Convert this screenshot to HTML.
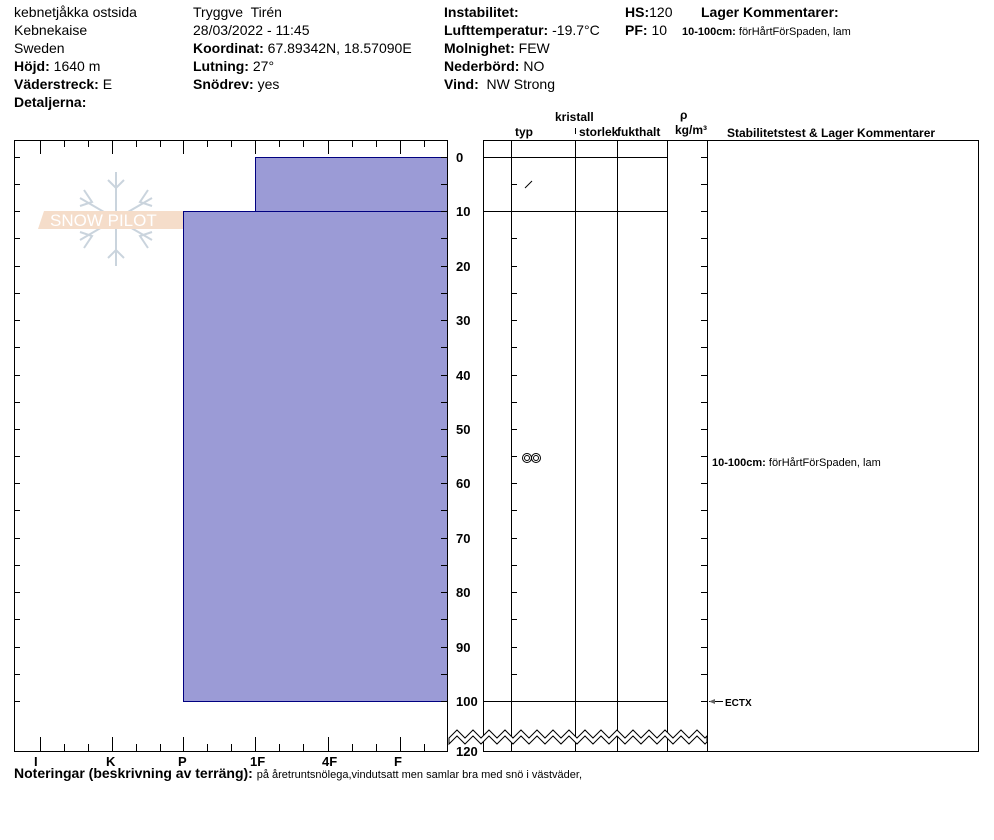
<!DOCTYPE html>
<html><head><meta charset="utf-8"><style>
body{margin:0;background:#fff;}
svg{display:block;font-family:"Liberation Sans",Arial,sans-serif;}
.t{font-size:14px;fill:#000}
.b{font-weight:bold}
.s{font-size:12px;font-weight:bold}
</style></head><body>
<svg width="994" height="840" viewBox="0 0 994 840" xmlns="http://www.w3.org/2000/svg">
<rect width="994" height="840" fill="#fff"/>
<g class="t">
<text x="14" y="17">kebnetjåkka ostsida</text>
<text x="14" y="35">Kebnekaise</text>
<text x="14" y="53">Sweden</text>
<text x="14" y="71"><tspan class="b">Höjd:</tspan> 1640 m</text>
<text x="14" y="89"><tspan class="b">Väderstreck:</tspan> E</text>
<text x="14" y="107" class="b">Detaljerna:</text>
<text x="193" y="17">Tryggve&#160; Tirén</text>
<text x="193" y="35">28/03/2022 - 11:45</text>
<text x="193" y="53"><tspan class="b">Koordinat:</tspan> 67.89342N, 18.57090E</text>
<text x="193" y="71"><tspan class="b">Lutning:</tspan> 27°</text>
<text x="193" y="89"><tspan class="b">Snödrev:</tspan> yes</text>
<text x="444" y="17" class="b">Instabilitet:</text>
<text x="444" y="35"><tspan class="b">Lufttemperatur:</tspan> -19.7°C</text>
<text x="444" y="53"><tspan class="b">Molnighet:</tspan> FEW</text>
<text x="444" y="71"><tspan class="b">Nederbörd:</tspan> NO</text>
<text x="444" y="89"><tspan class="b">Vind:</tspan>&#160; NW Strong</text>
<text x="625" y="17"><tspan class="b">HS:</tspan>120</text>
<text x="625" y="35"><tspan class="b">PF:</tspan> 10</text>
<text x="701" y="17" class="b">Lager Kommentarer:</text>
<text x="682" y="35" style="font-size:11px"><tspan class="b">10-100cm:</tspan> förHårtFörSpaden, lam</text>
</g>
<!-- logo -->
<g opacity="0.7">
<g stroke="#b4c2d0" stroke-width="2" fill="none">
<line x1="116" y1="172" x2="116" y2="266"/><line x1="80" y1="198" x2="152" y2="240"/><line x1="80" y1="240" x2="152" y2="198"/>
<path d="M108,180 L116,188 L124,180 M108,258 L116,250 L124,258 M84,190 L92,202 L80,206 M148,190 L140,202 L152,206 M84,248 L92,236 L80,232 M148,248 L140,236 L152,232"/>
</g>
<polygon points="44,211 190,211 183,229 38,229" fill="#f2cfb4"/>
<text x="50" y="226" style="font-size:17px;fill:#fff">SNOW PILOT</text>
</g>
<!-- bars -->
<rect x="255.5" y="157.5" width="192" height="54" fill="#9b9bd6" stroke="#000080"/>
<rect x="183.5" y="211.5" width="264" height="490" fill="#9b9bd6" stroke="#000080"/>
<rect x="14.5" y="140.5" width="433" height="611" fill="none" stroke="#000"/>
<!-- ticks -->
<path stroke="#000" fill="none" d="
M40.5,140v14M64.5,140v7M88.5,140v7M112.5,140v14M136.5,140v7M160.5,140v7M183.5,140v14M207.5,140v7M231.5,140v7M255.5,140v14M279.5,140v7M303.5,140v7M328.5,140v14M352.5,140v7M376.5,140v7M400.5,140v14M424.5,140v7
M40.5,751v-14M64.5,751v-7M88.5,751v-7M112.5,751v-14M136.5,751v-7M160.5,751v-7M183.5,751v-14M207.5,751v-7M231.5,751v-7M255.5,751v-14M279.5,751v-7M303.5,751v-7M328.5,751v-14M352.5,751v-7M376.5,751v-7M400.5,751v-14M424.5,751v-7
M14,157.5h6M14,184.5h6M14,211.5h6M14,238.5h6M14,266.5h6M14,293.5h6M14,320.5h6M14,347.5h6M14,375.5h6M14,402.5h6M14,429.5h6M14,456.5h6M14,483.5h6M14,510.5h6M14,538.5h6M14,565.5h6M14,592.5h6M14,619.5h6M14,647.5h6M14,674.5h6M14,701.5h6
M441,157.5h7M441,184.5h7M441,211.5h7M441,238.5h7M441,266.5h7M441,293.5h7M441,320.5h7M441,347.5h7M441,375.5h7M441,402.5h7M441,429.5h7M441,456.5h7M441,483.5h7M441,510.5h7M441,538.5h7M441,565.5h7M441,592.5h7M441,619.5h7M441,647.5h7M441,674.5h7M441,701.5h7
M511,157.5h6M511,184.5h6M511,211.5h6M511,238.5h6M511,266.5h6M511,293.5h6M511,320.5h6M511,347.5h6M511,375.5h6M511,402.5h6M511,429.5h6M511,456.5h6M511,483.5h6M511,510.5h6M511,538.5h6M511,565.5h6M511,592.5h6M511,619.5h6M511,647.5h6M511,674.5h6M511,701.5h6
M701,157.5h6M701,184.5h6M701,211.5h6M701,238.5h6M701,266.5h6M701,293.5h6M701,320.5h6M701,347.5h6M701,375.5h6M701,402.5h6M701,429.5h6M701,456.5h6M701,483.5h6M701,510.5h6M701,538.5h6M701,565.5h6M701,592.5h6M701,619.5h6M701,647.5h6M701,674.5h6M701,701.5h6"/>
<g class="t" style="font-size:13px;font-weight:bold">
<text x="456" y="162">0</text><text x="456" y="216">10</text><text x="456" y="271">20</text><text x="456" y="325">30</text><text x="456" y="380">40</text><text x="456" y="434">50</text><text x="456" y="488">60</text><text x="456" y="543">70</text><text x="456" y="597">80</text><text x="456" y="652">90</text><text x="456" y="706">100</text><text x="456" y="756">120</text>
<text x="34" y="766">I</text><text x="106" y="766">K</text><text x="178" y="766">P</text><text x="250" y="766">1F</text><text x="322" y="766">4F</text><text x="394" y="766">F</text>
</g>
<!-- right grid -->
<g stroke="#000" fill="none">
<rect x="483.5" y="140.5" width="224" height="611"/>
<rect x="707.5" y="140.5" width="271" height="611"/>
<line x1="511.5" y1="140" x2="511.5" y2="751"/>
<line x1="575.5" y1="140" x2="575.5" y2="751"/>
<line x1="617.5" y1="140" x2="617.5" y2="751"/>
<line x1="667.5" y1="140" x2="667.5" y2="751"/>
<line x1="483" y1="157.5" x2="667" y2="157.5"/>
<line x1="483" y1="211.5" x2="667" y2="211.5"/>
<line x1="483" y1="701.5" x2="667" y2="701.5"/>
<line x1="575.5" y1="128" x2="575.5" y2="134"/>
<line x1="525" y1="188" x2="532" y2="181"/>
<circle cx="527" cy="458" r="4.5"/><circle cx="536" cy="458" r="4.5"/>
<circle cx="527" cy="458" r="2.5"/><circle cx="536" cy="458" r="2.5"/>
<line x1="709" y1="701.5" x2="723" y2="701.5"/>
</g>
<polygon points="709,701.5 715,699 715,704" fill="#666"/>
<polygon fill="#fff" stroke="#000" points="449,738 457,730 465,738 473,730 481,738 489,730 497,738 505,730 513,738 521,730 529,738 537,730 545,738 553,730 561,738 569,730 577,738 585,730 593,738 601,730 609,738 617,730 625,738 633,730 641,738 649,730 657,738 665,730 673,738 681,730 689,738 697,730 705,738 707,736 707,742 705,744 697,736 689,744 681,736 673,744 665,736 657,744 649,736 641,744 633,736 625,744 617,736 609,744 601,736 593,744 585,736 577,744 569,736 561,744 553,736 545,744 537,736 529,744 521,736 513,744 505,736 497,744 489,736 481,744 473,736 465,744 457,736 449,744"/>
<g class="t">
<text x="555" y="121" class="s">kristall</text>
<text x="515" y="136" class="s">typ</text>
<text x="579" y="136" class="s">storlek</text>
<text x="617" y="136" class="s">fukthalt</text>
<text x="680" y="119" class="s">ρ</text>
<text x="675" y="134" class="s">kg/m³</text>
<text x="727" y="137" class="s">Stabilitetstest &amp; Lager Kommentarer</text>
<text x="712" y="466" style="font-size:11px"><tspan class="b">10-100cm:</tspan> förHårtFörSpaden, lam</text>
<text x="725" y="706" style="font-size:10px;font-weight:bold">ECTX</text>
<text x="14" y="778" style="font-size:14px"><tspan class="b">Noteringar (beskrivning av terräng):</tspan> <tspan style="font-size:11px">på åretruntsnölega,vindutsatt men samlar bra med snö i västväder,</tspan></text>
</g>
</svg>
</body></html>
